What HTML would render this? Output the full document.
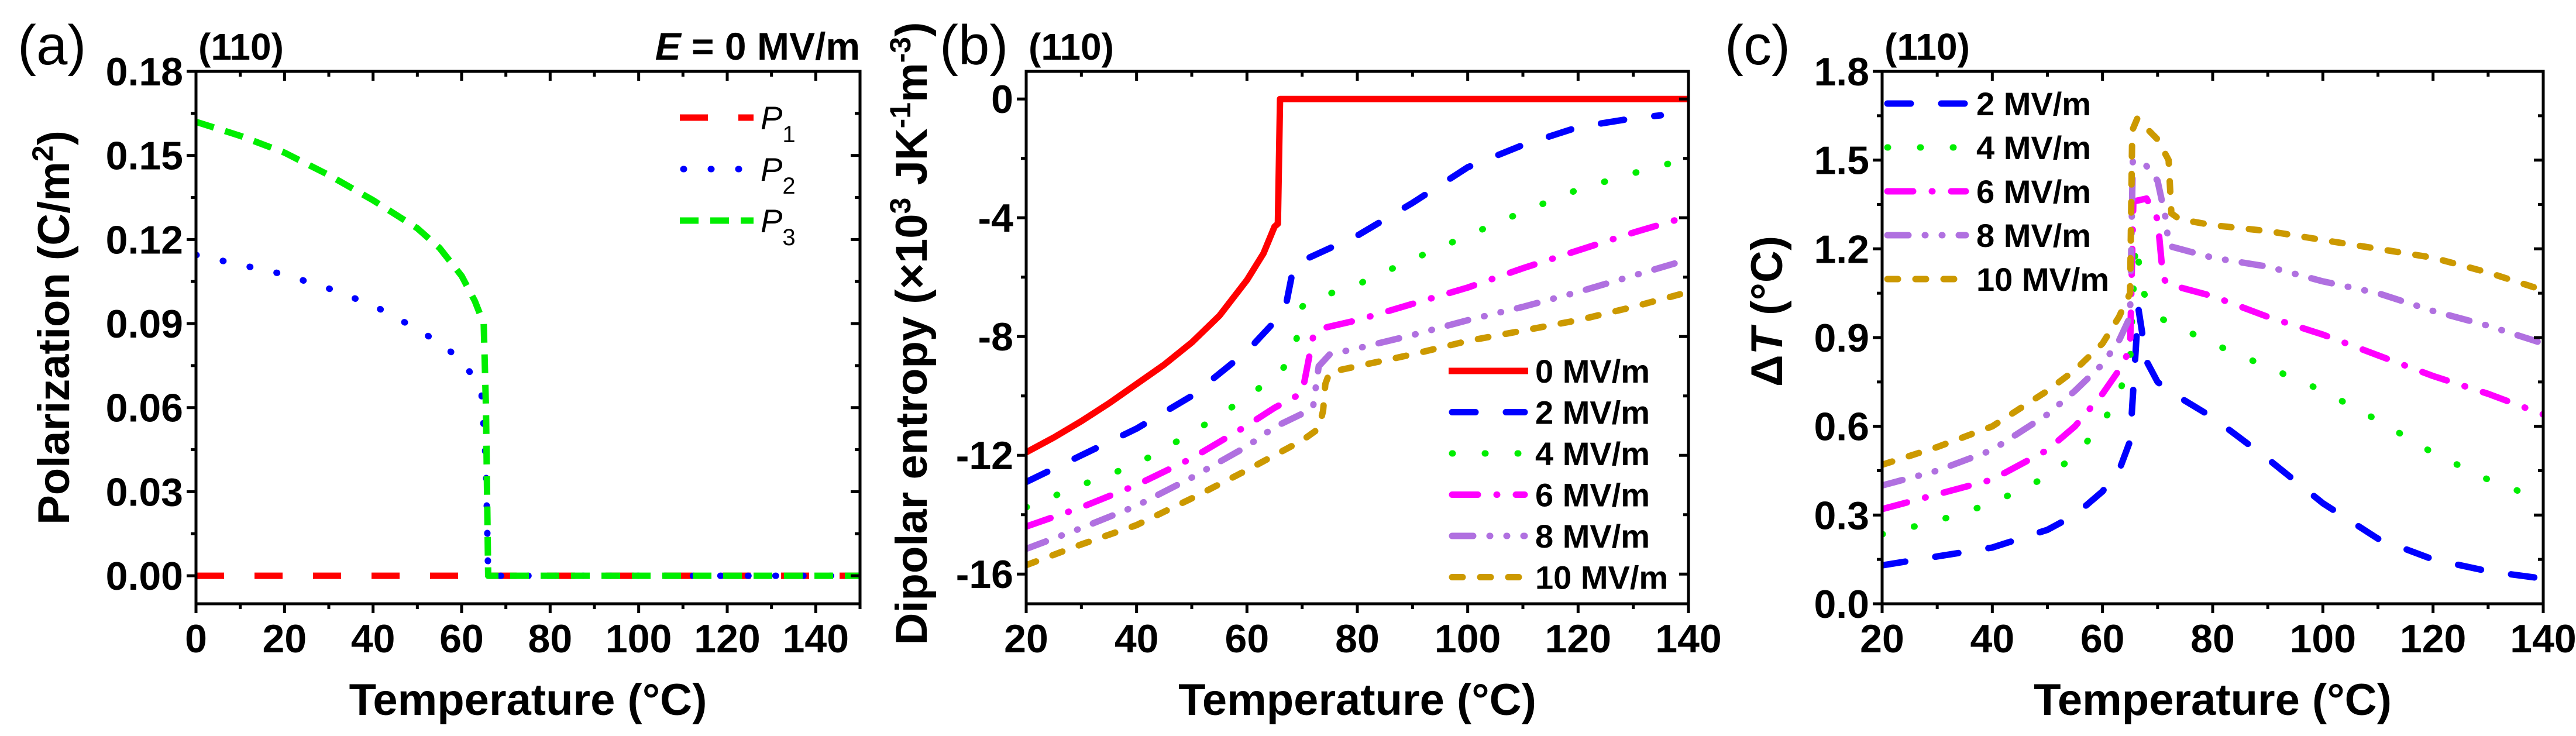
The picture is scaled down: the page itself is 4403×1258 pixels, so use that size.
<!DOCTYPE html>
<html><head><meta charset="utf-8">
<style>
html,body{margin:0;padding:0;background:#fff;}
svg{display:block;font-family:"Liberation Sans",Arial,sans-serif;}
</style></head>
<body>
<svg id="fig" width="4403" height="1258" viewBox="0 0 4403 1258" xmlns="http://www.w3.org/2000/svg"></svg>
<script>
// ---------- Panel (a) data ----------
const aP1T = [0, 150];
const aP1V = [0, 0];
const aP2T = [0, 10, 20, 30, 40, 50, 55, 60, 63, 64.5, 65.5, 66, 150];
const aP2V = [0.1145, 0.111, 0.1075, 0.1025, 0.0965, 0.088, 0.083, 0.077, 0.07, 0.065, 0.04, 0, 0];
const aP3T = [0, 10, 20, 30, 40, 50, 55, 60, 63, 65, 65.5, 66, 150];
const aP3V = [0.162, 0.157, 0.151, 0.143, 0.134, 0.124, 0.117, 0.107, 0.098, 0.09, 0.06, 0, 0];
const aXTicks = [0, 20, 40, 60, 80, 100, 120, 140];
const aYTicks = [0, 0.03, 0.06, 0.09, 0.12, 0.15, 0.18];
const aYLabels = ["0.00", "0.03", "0.06", "0.09", "0.12", "0.15", "0.18"];

// ---------- Panel (b) data ----------
const b0T = [20, 25, 30, 35, 40, 45, 50, 55, 60, 63, 65, 65.6, 66, 140];
const b0V = [-11.9, -11.4, -10.85, -10.25, -9.6, -8.95, -8.2, -7.3, -6.1, -5.2, -4.3, -4.2, 0, 0];
const b2T = [20, 30, 40, 50, 60, 65, 67, 68.5, 70, 80, 90, 100, 110, 120, 130, 135];
const b2V = [-12.9, -12.0, -11.1, -10.0, -8.5, -7.5, -7.0, -5.6, -5.45, -4.6, -3.5, -2.3, -1.55, -0.95, -0.65, -0.55];
const b4T = [20, 30, 40, 50, 60, 66, 68.5, 70, 71, 80, 90, 100, 110, 120, 130, 140];
const b4V = [-13.75, -13.0, -12.3, -11.25, -10.05, -9.2, -8.6, -7.0, -6.8, -6.25, -5.4, -4.6, -3.8, -3.05, -2.5, -2.0];
const b6T = [20, 30, 40, 50, 60, 65, 70, 72, 73, 80, 90, 100, 110, 120, 130, 140];
const b6V = [-14.4, -13.75, -13.0, -12.1, -11.0, -10.4, -9.9, -8.0, -7.75, -7.45, -6.9, -6.35, -5.7, -5.1, -4.5, -3.95];
const b8T = [20, 30, 40, 50, 60, 65, 70, 72, 73, 75, 80, 90, 100, 110, 120, 130, 140];
const b8V = [-15.15, -14.45, -13.7, -12.75, -11.7, -11.05, -10.6, -10.35, -9.0, -8.6, -8.4, -7.95, -7.45, -7.0, -6.5, -5.95, -5.4];
const b10T = [20, 30, 40, 50, 60, 65, 70, 73, 73.8, 74.2, 75, 80, 90, 100, 110, 120, 130, 140];
const b10V = [-15.7, -15.0, -14.35, -13.45, -12.5, -12.0, -11.5, -11.1, -10.5, -9.6, -9.2, -9.0, -8.6, -8.15, -7.8, -7.45, -7.0, -6.5];
const bXTicks = [20, 40, 60, 80, 100, 120, 140];
const bYTicks = [-16, -12, -8, -4, 0];

// ---------- Panel (c) data ----------
const c2T = [20, 30, 40, 50, 55, 60, 63, 65, 66.5, 68, 70, 72, 80, 90, 100, 110, 120, 130, 140];
const c2V = [0.13, 0.16, 0.19, 0.25, 0.3, 0.38, 0.45, 0.55, 1.0, 0.82, 0.75, 0.72, 0.63, 0.49, 0.34, 0.22, 0.15, 0.11, 0.085];
const c4T = [20, 30, 40, 50, 55, 60, 63, 65, 66, 67.5, 70, 80, 90, 100, 110, 120, 130, 140];
const c4V = [0.235, 0.28, 0.34, 0.43, 0.5, 0.61, 0.71, 0.82, 1.22, 1.05, 0.97, 0.88, 0.8, 0.72, 0.62, 0.51, 0.42, 0.35];
const c6T = [20, 30, 40, 50, 55, 60, 63, 65, 65.6, 68, 70, 71, 72, 80, 90, 100, 110, 120, 130, 140];
const c6V = [0.32, 0.37, 0.42, 0.52, 0.6, 0.71, 0.79, 0.86, 1.36, 1.37, 1.3, 1.1, 1.08, 1.04, 0.97, 0.91, 0.84, 0.77, 0.71, 0.64];
const c8T = [20, 30, 40, 50, 55, 60, 63, 65, 65.5, 68, 70, 71.5, 72, 80, 90, 100, 110, 120, 130, 140];
const c8V = [0.4, 0.45, 0.52, 0.64, 0.72, 0.81, 0.89, 0.97, 1.5, 1.48, 1.43, 1.3, 1.21, 1.17, 1.14, 1.09, 1.05, 0.99, 0.94, 0.88];
const c10T = [20, 30, 40, 50, 55, 60, 63, 65, 65.4, 66.3, 70, 72, 72.5, 74, 80, 90, 100, 110, 120, 130, 140];
const c10V = [0.47, 0.53, 0.6, 0.72, 0.79, 0.88, 0.97, 1.05, 1.6, 1.64, 1.57, 1.5, 1.32, 1.3, 1.28, 1.26, 1.23, 1.2, 1.17, 1.12, 1.06];
const cXTicks = [20, 40, 60, 80, 100, 120, 140];
const cYTicks = [0, 0.3, 0.6, 0.9, 1.2, 1.5, 1.8];
const cYLabels = ["0.0", "0.3", "0.6", "0.9", "1.2", "1.5", "1.8"];

const NS = "http://www.w3.org/2000/svg";
const svg = document.getElementById("fig");
function mk(tag, attrs, parent) {
  const e = document.createElementNS(NS, tag);
  for (const k in attrs) e.setAttribute(k, attrs[k]);
  (parent || svg).appendChild(e);
  return e;
}
const STY = {
  red: {stroke: "#ff0000", dash: "", cap: "butt"},
  redDash: {stroke: "#ff0000", dash: "48 52", cap: "butt"},
  blueDot: {stroke: "#0000ff", dash: "1 46", cap: "round"},
  greenShort: {stroke: "#00ee00", dash: "32 20", cap: "butt"},
  blue: {stroke: "#0000ff", dash: "40 52", cap: "round"},
  green: {stroke: "#00ee00", dash: "1 55", cap: "round"},
  magenta: {stroke: "#ff00ff", dash: "44 32 1 32", cap: "round"},
  purple: {stroke: "#b070e0", dash: "36 28 1 28 1 28", cap: "round"},
  gold: {stroke: "#cc9900", dash: "18 30", cap: "round"}
};

function panel(cfg) {
  const g = mk("g", {});
  
  
  const L = cfg.L, R = cfg.R, T = 122, B = 1032;
  const sx = v => L + (v - cfg.x0) / (cfg.x1 - cfg.x0) * (R - L);
  const sy = v => B - (v - cfg.y0) / (cfg.y1 - cfg.y0) * (B - T);
  const clip = "clip-" + cfg.name;
  const cp = mk("clipPath", {id: clip}, g);
  mk("rect", {x: L, y: T, width: R - L, height: B - T}, cp);
  // series
  cfg.series.forEach(s => {
    const st = STY[s.style];
    const d = s.t.map((t, i) => (i ? "L" : "M") + sx(t).toFixed(1) + "," + sy(s.v[i]).toFixed(1)).join(" ");
    const p = mk("path", {d: d, fill: "none", stroke: st.stroke, "stroke-width": 11, "stroke-dasharray": st.dash, "stroke-linecap": st.cap, "stroke-linejoin": "round", "clip-path": "url(#" + clip + ")"}, g);
    
    
  });
  // frame
  const fr = mk("rect", {x: L, y: T, width: R - L, height: B - T, fill: "none", stroke: "#000", "stroke-width": 5}, g);
  
  
  // x ticks
  const xstep = cfg.xTicks[1] - cfg.xTicks[0];
  for (let v = cfg.x0; v <= cfg.x1 + 1e-9; v += xstep / 2) {
    const major = Math.abs(((v - cfg.xTicks[0]) / xstep) - Math.round((v - cfg.xTicks[0]) / xstep)) < 1e-6;
    const len = major ? 16 : 9;
    mk("line", {x1: sx(v), x2: sx(v), y1: B, y2: B + len, stroke: "#000", "stroke-width": 5}, g);
    mk("line", {x1: sx(v), x2: sx(v), y1: T, y2: T + len, stroke: "#000", "stroke-width": 5}, g);
  }
  cfg.xTicks.forEach(v => {
    const t = mk("text", {x: sx(v), y: 1115, "text-anchor": "middle", "font-size": 68, "font-weight": "bold"}, g);
    t.textContent = v;
    
    
  });
  const ystep = cfg.yTicks[1] - cfg.yTicks[0];
  for (let k = 0; ; k++) {
    const v = cfg.yTicks[0] - ystep / 2 * 2 + k * ystep / 2;
    if (v > cfg.y1 + 1e-9) break;
    if (v < cfg.y0 - 1e-9) continue;
    const major = k % 2 === 0;
    const len = major ? 16 : 9;
    mk("line", {x1: L - len, x2: L, y1: sy(v), y2: sy(v), stroke: "#000", "stroke-width": 5}, g);
    mk("line", {x1: R - len, x2: R, y1: sy(v), y2: sy(v), stroke: "#000", "stroke-width": 5}, g);
  }
  cfg.yTicks.forEach((v, i) => {
    const t = mk("text", {x: L - 22, y: sy(v) + 24, "text-anchor": "end", "font-size": 68, "font-weight": "bold"}, g);
    t.textContent = cfg.yLabels ? cfg.yLabels[i] : v;
    
    
  });
  // x title
  const xt = mk("text", {x: (L + R) / 2, y: 1222, "text-anchor": "middle", "font-size": 76, "font-weight": "bold"}, g);
  xt.textContent = "Temperature (°C)";
  
  
  // y title
  const yt = mk("text", {x: 0, y: 0, "text-anchor": "middle", "font-size": 76, "font-weight": "bold", transform: "translate(" + cfg.ytx + "," + cfg.yty + ") rotate(-90)"}, g);
  yt.innerHTML = cfg.ytitle;
  
  
  // panel label and orientation
  const pl = mk("text", {x: cfg.plx, y: 110, "font-size": 96}, g);
  pl.textContent = cfg.label;
  
  
  const ol = mk("text", {x: L + 4, y: 102, "font-size": 64, "font-weight": "bold"}, g);
  ol.textContent = "(110)";
  
  
  // legend
  cfg.legend.forEach((e, i) => {
    const st = STY[e.style];
    const y = cfg.legY + i * cfg.legDy;
    const lg = mk("g", {}, g);
    
    
    mk("line", {x1: cfg.legX1 + (st.cap === "round" ? 6 : 0), x2: cfg.legX2 - (st.cap === "round" ? 6 : 0), y1: y, y2: y, stroke: st.stroke, "stroke-width": 11, "stroke-dasharray": st.dash, "stroke-linecap": st.cap}, lg);
    const t = mk("text", {x: cfg.legX2 + 12, y: y + 20, "font-size": 56, "font-weight": "bold"}, lg);
    t.innerHTML = e.text;
  });
  return {sx, sy, g};
}

panel({name: "panel-a", L: 335, R: 1470, x0: 0, x1: 150, y0: -0.01, y1: 0.18,
  xTicks: aXTicks, yTicks: aYTicks, yLabels: aYLabels,
  series: [
    {name: "series-p1", t: aP1T, v: aP1V, style: "redDash"},
    {name: "series-p2", t: aP2T, v: aP2V, style: "blueDot"},
    {name: "series-p3", t: aP3T, v: aP3V, style: "greenShort"}],
  ytitle: 'Polarization (C/m<tspan baseline-shift="super" font-size="50">2</tspan>)', ytx: 118, yty: 560,
  label: "(a)", plx: 30,
  legend: [{text: '<tspan font-style="italic" font-weight="normal">P</tspan><tspan baseline-shift="sub" font-size="40" font-weight="normal">1</tspan>', style: "redDash"},
           {text: '<tspan font-style="italic" font-weight="normal">P</tspan><tspan baseline-shift="sub" font-size="40" font-weight="normal">2</tspan>', style: "blueDot"},
           {text: '<tspan font-style="italic" font-weight="normal">P</tspan><tspan baseline-shift="sub" font-size="40" font-weight="normal">3</tspan>', style: "greenShort"}],
  legX1: 1162, legX2: 1288, legY: 201, legDy: 88});

const eLbl = mk("text", {x: 1470, y: 102, "text-anchor": "end", "font-size": 66, "font-weight": "bold"});
eLbl.innerHTML = '<tspan font-style="italic">E</tspan> = 0 MV/m';



panel({name: "panel-b", L: 1754, R: 2886, x0: 20, x1: 140, y0: -17, y1: 0.93,
  xTicks: bXTicks, yTicks: bYTicks,
  series: [
    {name: "series-0mvm", t: b0T, v: b0V, style: "red"},
    {name: "series-2mvm", t: b2T, v: b2V, style: "blue"},
    {name: "series-4mvm", t: b4T, v: b4V, style: "green"},
    {name: "series-6mvm", t: b6T, v: b6V, style: "magenta"},
    {name: "series-8mvm", t: b8T, v: b8V, style: "purple"},
    {name: "series-10mvm", t: b10T, v: b10V, style: "gold"}],
  ytitle: 'Dipolar entropy (×10<tspan baseline-shift="super" font-size="50">3</tspan> JK<tspan baseline-shift="super" font-size="50">-1</tspan>m<tspan baseline-shift="super" font-size="50">-3</tspan>)', ytx: 1584, yty: 570,
  label: "(b)", plx: 1606,
  legend: [{text: "0 MV/m", style: "red"}, {text: "2 MV/m", style: "blue"}, {text: "4 MV/m", style: "green"},
           {text: "6 MV/m", style: "magenta"}, {text: "8 MV/m", style: "purple"}, {text: "10 MV/m", style: "gold"}],
  legX1: 2476, legX2: 2612, legY: 634, legDy: 70.5});

panel({name: "panel-c", L: 3217, R: 4347, x0: 20, x1: 140, y0: 0, y1: 1.8,
  xTicks: cXTicks, yTicks: cYTicks, yLabels: cYLabels,
  series: [
    {name: "series-2mvm", t: c2T, v: c2V, style: "blue"},
    {name: "series-4mvm", t: c4T, v: c4V, style: "green"},
    {name: "series-6mvm", t: c6T, v: c6V, style: "magenta"},
    {name: "series-8mvm", t: c8T, v: c8V, style: "purple"},
    {name: "series-10mvm", t: c10T, v: c10V, style: "gold"}],
  ytitle: 'Δ<tspan font-style="italic">T</tspan> (°C)', ytx: 3046, yty: 532,
  label: "(c)", plx: 2948,
  legend: [{text: "2 MV/m", style: "blue"}, {text: "4 MV/m", style: "green"}, {text: "6 MV/m", style: "magenta"},
           {text: "8 MV/m", style: "purple"}, {text: "10 MV/m", style: "gold"}],
  legX1: 3220, legX2: 3366, legY: 177, legDy: 75});
</script>
</body></html>
